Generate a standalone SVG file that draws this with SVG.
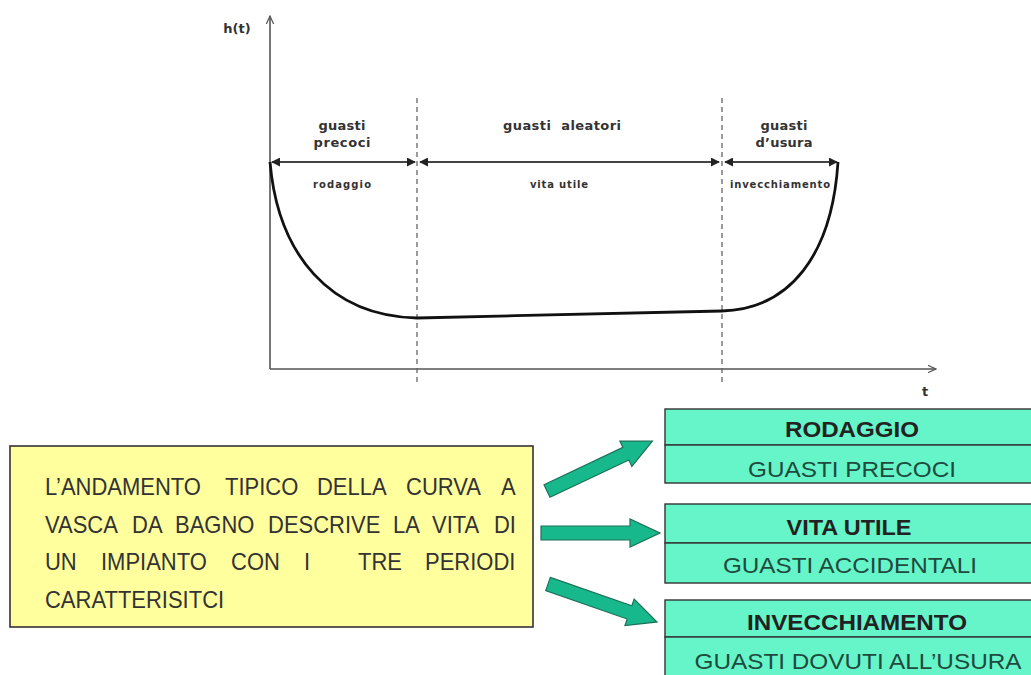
<svg xmlns="http://www.w3.org/2000/svg" width="1031" height="675" viewBox="0 0 1031 675">
<defs>
<style>
.ax{stroke:#555;stroke-width:1.6;fill:none}
.dash{stroke:#666;stroke-width:1.3;stroke-dasharray:5,4;fill:none}
.dim{stroke:#444;stroke-width:1.8;fill:none;marker-start:url(#ah);marker-end:url(#ah)}
.lbl{font-family:"DejaVu Sans",sans-serif;font-weight:bold;font-size:13px;fill:#333;text-anchor:middle}
.sm{font-family:"DejaVu Sans",sans-serif;font-weight:bold;font-size:10px;fill:#333;text-anchor:middle}
.ybox{fill:#FFFF9E;stroke:#333;stroke-width:1.6}
.gbox{fill:#66F5C8;stroke:#333;stroke-width:1.4}
.body{font-family:"Liberation Sans",Arial,sans-serif;font-size:22px;fill:#333}
.gt{font-family:"Liberation Sans",Arial,sans-serif;font-size:22px;fill:#222;text-anchor:middle;font-weight:bold}
.gs{font-family:"Liberation Sans",Arial,sans-serif;font-size:22px;fill:#1f4a3e;text-anchor:middle}
.barrow{fill:#17B88C;stroke:#1e7058;stroke-width:1.2}
</style>
<marker id="ah" viewBox="0 0 10 10" refX="9" refY="5" markerWidth="5" markerHeight="5" orient="auto-start-reverse"><path d="M0,0 L10,5 L0,10 Z" fill="#222"/></marker>
<marker id="axh" viewBox="0 0 12 12" refX="11" refY="6" markerWidth="9" markerHeight="9" markerUnits="userSpaceOnUse" orient="auto"><path d="M0,1 L11,6 L0,11" fill="none" stroke="#555" stroke-width="1.6"/></marker>
<path id="blk" d="M0,-7 L89,-7 L89,-14 L119,0 L89,14 L89,7 L0,7 Z"/>
</defs>
<rect width="1031" height="675" fill="#fff"/>
<g id="chart">
<line class="ax" x1="270" y1="369" x2="270" y2="16" marker-end="url(#axh)"/>
<line class="ax" x1="270" y1="369" x2="936" y2="369" marker-end="url(#axh)"/>
<text x="237" y="33" class="lbl" font-size="15">h(t)</text>
<text x="925" y="396" class="lbl" font-size="15">t</text>
<line class="dash" x1="417" y1="98" x2="417" y2="384"/>
<line class="dash" x1="722" y1="98" x2="722" y2="384"/>
<line class="dim" x1="272" y1="162" x2="415" y2="162"/>
<line class="dim" x1="420" y1="162" x2="719" y2="162"/>
<line class="dim" x1="725" y1="162" x2="837" y2="162"/>
<text class="lbl" x="342" y="130" textLength="47">guasti</text>
<text class="lbl" x="342" y="147" textLength="57">precoci</text>
<text class="lbl" x="562" y="130" textLength="118" xml:space="preserve">guasti  aleatori</text>
<text class="lbl" x="784" y="130" textLength="47">guasti</text>
<text class="lbl" x="784" y="147" textLength="57">d’usura</text>
<text class="sm" x="342" y="188" textLength="58">rodaggio</text>
<text class="sm" x="559" y="188" textLength="58">vita utile</text>
<text class="sm" x="780" y="188" textLength="100">invecchiamento</text>
<path d="M270,162 C278,255 330,316 417,318 C520,316 640,312 722,311 C790,309 832,255 838,162" fill="none" stroke="#111" stroke-width="2.8"/>
</g>
<g id="desc">
<rect class="ybox" x="10" y="446" width="523" height="181"/>
<text class="body" transform="translate(0,495) scale(1,1.12)"><tspan x="45">L’ANDAMENTO</tspan><tspan x="225">TIPICO</tspan><tspan x="317">DELLA</tspan><tspan x="406">CURVA</tspan><tspan x="501">A</tspan></text>
<text class="body" transform="translate(0,532.5) scale(1,1.12)"><tspan x="45">VASCA</tspan><tspan x="132">DA</tspan><tspan x="175">BAGNO</tspan><tspan x="268">DESCRIVE</tspan><tspan x="393">LA</tspan><tspan x="432">VITA</tspan><tspan x="494">DI</tspan></text>
<text class="body" transform="translate(0,570) scale(1,1.12)"><tspan x="45">UN</tspan><tspan x="101">IMPIANTO</tspan><tspan x="231">CON</tspan><tspan x="304">I</tspan><tspan x="358">TRE</tspan><tspan x="425">PERIODI</tspan></text>
<text class="body" transform="translate(0,607.5) scale(1,1.12)"><tspan x="45">CARATTERISITCI</tspan></text>
</g>
<g id="connectors">
<use href="#blk" class="barrow" transform="translate(547,491) rotate(-25.3) scale(0.98,1)"/>
<use href="#blk" class="barrow" transform="translate(541,533)"/>
<use href="#blk" class="barrow" transform="translate(548,584) rotate(19.2) scale(0.97,1)"/>
</g>
<g id="rodaggio">
<rect class="gbox" x="665" y="409" width="380" height="36"/>
<rect class="gbox" x="665" y="445" width="380" height="38"/>
<text class="gt" x="852" y="437" textLength="134" lengthAdjust="spacingAndGlyphs">RODAGGIO</text>
<text class="gs" x="852" y="477" textLength="208" lengthAdjust="spacingAndGlyphs">GUASTI PRECOCI</text>
</g>
<g id="vita">
<rect class="gbox" x="665" y="504" width="380" height="39"/>
<rect class="gbox" x="665" y="543" width="380" height="40"/>
<text class="gt" x="849" y="535" textLength="125" lengthAdjust="spacingAndGlyphs">VITA UTILE</text>
<text class="gs" x="850" y="573" textLength="254" lengthAdjust="spacingAndGlyphs">GUASTI ACCIDENTALI</text>
</g>
<g id="invecchiamento">
<rect class="gbox" x="665" y="600" width="380" height="37"/>
<rect class="gbox" x="665" y="637" width="380" height="45"/>
<text class="gt" x="857" y="630" textLength="220" lengthAdjust="spacingAndGlyphs">INVECCHIAMENTO</text>
<text class="gs" x="858" y="669" textLength="327" lengthAdjust="spacingAndGlyphs">GUASTI DOVUTI ALL’USURA</text>
</g>
</svg>
